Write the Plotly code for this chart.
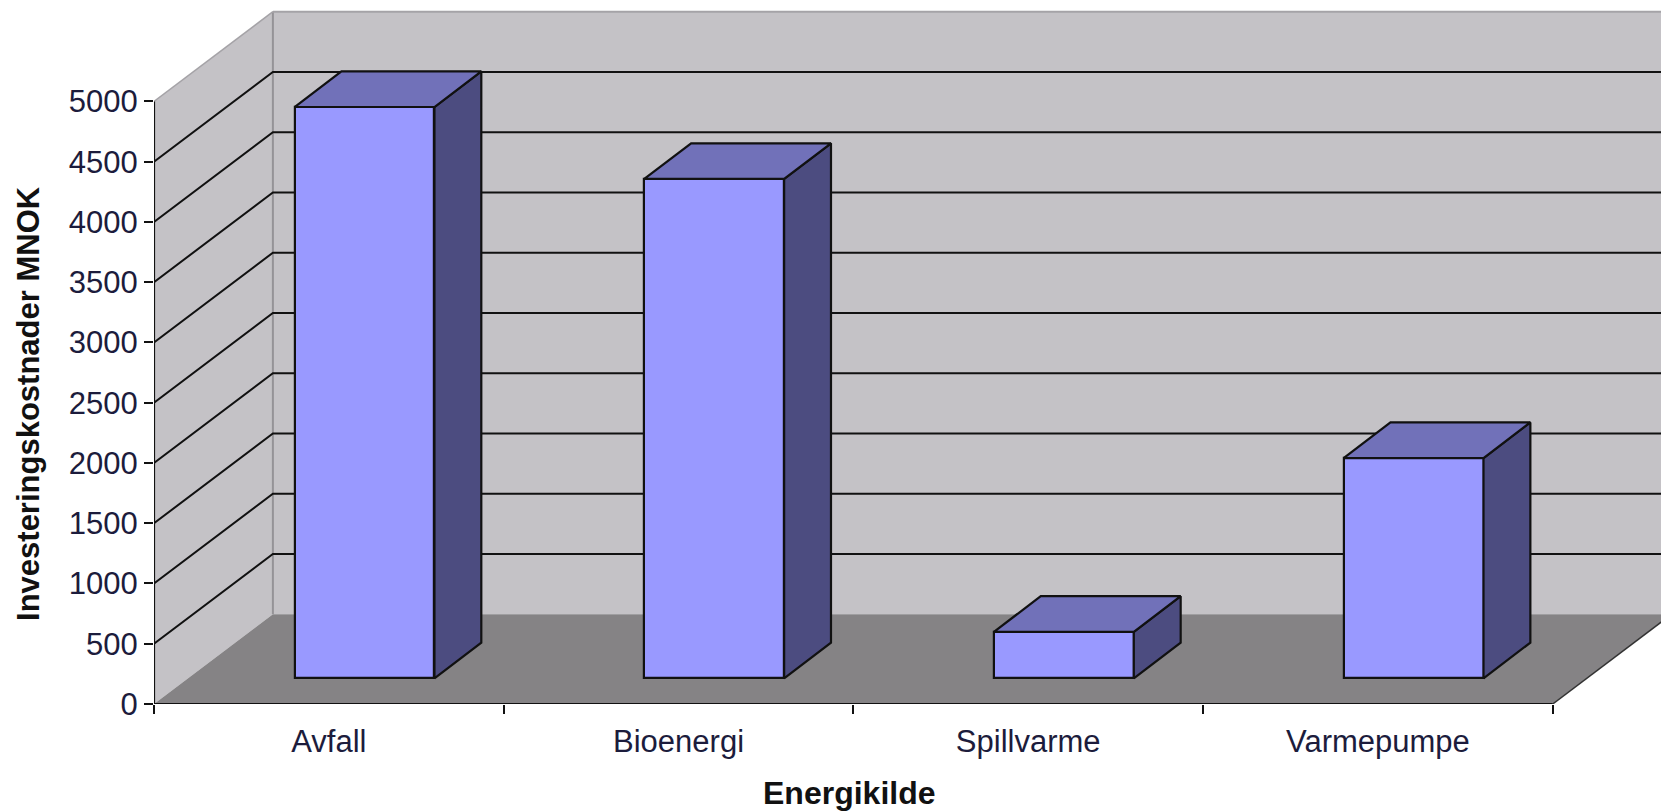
import plotly.graph_objects as go

categories = ["Avfall", "Bioenergi", "Spillvarme", "Varmepumpe"]
investment = [4741, 4144, 386, 1828]
y_ticks = [0, 500, 1000, 1500, 2000, 2500, 3000, 3500, 4000, 4500, 5000]

WALL_DX, WALL_DY = 0.340, 745      # back wall offset, in axis units
BAR_DX, BAR_DY = 0.102, 213        # front of bar from front plane
SIDE_DX, SIDE_DY = 0.134, 296      # bar depth
BAR_W = 0.40
X_MAX, Y_MAX = 4.3096, 5842
YTOP = 5000
NCAT = len(categories)

WALL, FLOOR, FRONT, SIDE, TOP = "#C4C2C6", "#858385", "#9999FF", "#4C4C80", "#7171B9"
LINE = "#111111"
TEXT = "#1c1c3c"
FONT = "Liberation Sans, Arial, sans-serif"

fig = go.Figure()


def poly(xs, ys, fill, line_color=None, width=0, axes=("x", "y")):
    fig.add_trace(go.Scatter(
        x=list(xs) + [xs[0]], y=list(ys) + [ys[0]], mode="lines", fill="toself",
        fillcolor=fill, line=dict(color=line_color or fill, width=width),
        hoverinfo="skip", showlegend=False, xaxis=axes[0], yaxis=axes[1], cliponaxis=False,
    ))


def seg(xs, ys, color=LINE, width=2, dash=None):
    fig.add_trace(go.Scatter(
        x=xs, y=ys, mode="lines", line=dict(color=color, width=width, dash=dash),
        hoverinfo="skip", showlegend=False, cliponaxis=False,
    ))


# back wall, side wall, floor
poly([WALL_DX, X_MAX, X_MAX, WALL_DX], [WALL_DY, WALL_DY, WALL_DY + YTOP, WALL_DY + YTOP], WALL)
poly([0, WALL_DX, WALL_DX, 0], [0, WALL_DY, WALL_DY + YTOP, YTOP], WALL)
poly([0, NCAT, NCAT + WALL_DX, WALL_DX], [0, 0, WALL_DY, WALL_DY], FLOOR)

# wall edges
seg([WALL_DX, WALL_DX], [WALL_DY, WALL_DY + YTOP], "#959397", 2)
seg([WALL_DX, X_MAX], [WALL_DY + YTOP, WALL_DY + YTOP], "#A5A3A7", 2)
seg([0, WALL_DX], [YTOP, WALL_DY + YTOP], "#A5A3A7", 1.5)

# gridlines on side and back wall (none at the top value)
for t in y_ticks[1:-1]:
    seg([0, WALL_DX, X_MAX], [t, t + WALL_DY, t + WALL_DY], LINE, 2)

# axis lines
seg([0, 0], [0, YTOP], LINE, 2.2)
seg([0, NCAT], [0, 0], LINE, 2.2)
seg([NCAT, NCAT + WALL_DX], [0, WALL_DY], "#333333", 1.5)

# bars: front faces through a bar trace, top and side from the same values
fig.add_trace(go.Bar(
    x=[i + 0.5 + BAR_DX for i in range(NCAT)], y=investment, base=BAR_DY, width=BAR_W,
    marker=dict(color=FRONT, line=dict(color=LINE, width=2.2)),
    xaxis="x2", yaxis="y2", showlegend=False, hovertext=categories, hoverinfo="text+y",
))
for i, v in enumerate(investment):
    x0 = i + 0.5 + BAR_DX - BAR_W / 2
    x1 = x0 + BAR_W
    y0 = BAR_DY
    y1 = BAR_DY + v
    poly([x1, x1 + SIDE_DX, x1 + SIDE_DX, x1], [y0, y0 + SIDE_DY, y1 + SIDE_DY, y1],
         SIDE, LINE, 2.2, ("x2", "y2"))
    poly([x0, x1, x1 + SIDE_DX, x0 + SIDE_DX], [y1, y1, y1 + SIDE_DY, y1 + SIDE_DY],
         TOP, LINE, 2.2, ("x2", "y2"))

tickfont = dict(family=FONT, size=31, color=TEXT)
fig.update_layout(
    width=1661, height=812, autosize=False,
    margin=dict(l=153.5, r=0, t=0, b=107.7),
    paper_bgcolor="white", plot_bgcolor="white", showlegend=False, bargap=0,
    xaxis=dict(
        range=[0, X_MAX], tickmode="array", tickvals=[i + 0.5 for i in range(NCAT)],
        ticktext=categories, ticks="", showgrid=False, zeroline=False, showline=False,
        tickfont=tickfont, ticklabelstandoff=16,
        minor=dict(tickmode="array", tickvals=list(range(NCAT + 1)), ticks="outside",
                   ticklen=9, tickwidth=2, tickcolor=LINE, showgrid=False),
    ),
    yaxis=dict(
        range=[0, Y_MAX], tickmode="array", tickvals=y_ticks, ticks="outside", ticklen=9,
        tickwidth=2, tickcolor=LINE, showgrid=False, zeroline=False, showline=False,
        tickfont=tickfont, ticklabelstandoff=0,
    ),
    xaxis2=dict(range=[0, X_MAX], overlaying="x", visible=False),
    yaxis2=dict(range=[0, Y_MAX], overlaying="y", visible=False),
    annotations=[
        dict(text="<b>Energikilde</b>", xref="paper", yref="paper", x=0.4614, y=-0.1265,
             xanchor="center", yanchor="middle", showarrow=False,
             font=dict(family=FONT, size=32, color="#111111")),
        dict(text="<b>Investeringskostnader MNOK</b>", xref="paper", yref="paper",
             x=-0.0828, y=0.4265, xanchor="center", yanchor="middle", showarrow=False,
             textangle=-90, font=dict(family=FONT, size=31, color="#111111")),
    ],
)

fig.write_html("out.html", config=dict(displayModeBar=False),
               post_script="document.body.style.margin='0';document.body.style.overflow='hidden';")
